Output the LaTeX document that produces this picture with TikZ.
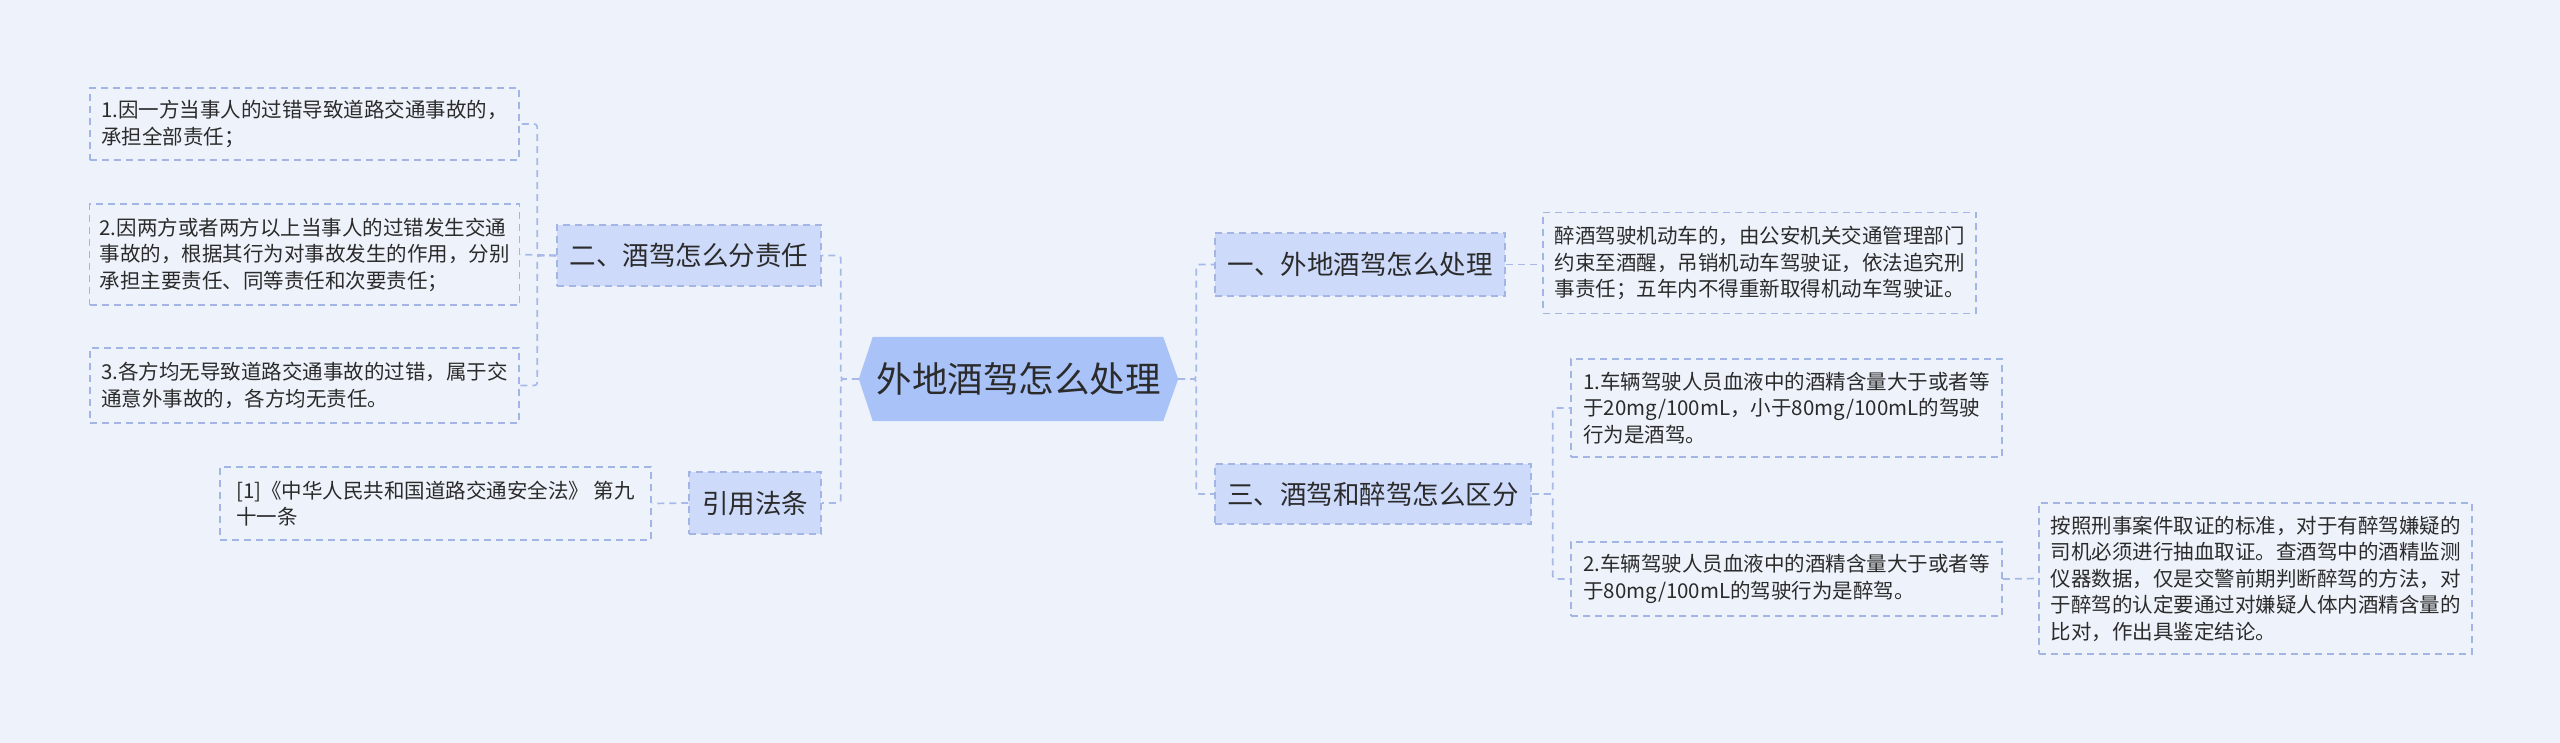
\documentclass[tikz,border=0pt]{standalone}
\usepackage{fontspec}
\setmainfont{Noto Sans CJK SC}
\usetikzlibrary{backgrounds}
\definecolor{bgc}{HTML}{EEF3FB}
\definecolor{rootc}{HTML}{A9C2F7}
\definecolor{branchc}{HTML}{CDDAFA}
\definecolor{bordc}{HTML}{A2B5E4}
\definecolor{connc}{HTML}{A6B9E8}
\definecolor{txtc}{HTML}{2B2B2B}
\tikzset{
  rootnode/.style={draw=none,fill=none,text=txtc,inner sep=0pt,font=\fontsize{35.5}{40}\selectfont},
  branchnode/.style={draw=bordc,fill=branchc,line width=1.5pt,dash pattern=on 7pt off 5pt,text=txtc,inner sep=0pt,font=\fontsize{26.5}{32}\selectfont},
  leafnode/.style={draw=bordc,fill=bgc,line width=1.5pt,dash pattern=on 7pt off 5pt,text=txtc,inner xsep=10pt,inner ysep=0pt,align=left,font=\fontsize{20.5}{26.5}\selectfont},
  conn/.style={draw=connc,line width=1.7pt,dash pattern=on 7pt off 5pt,rounded corners=3pt}
}
\begin{document}
\begin{tikzpicture}[x=1pt,y=-1pt]
\useasboundingbox (0,0) rectangle (2560,743);
\begin{scope}[on background layer]
\fill[bgc] (0,0) rectangle (2560,743);
\end{scope}

% root
\node[rootnode,minimum width=319pt,minimum height=84pt] (root) at (1018.5,379) {外地酒驾怎么处理};
\begin{scope}[on background layer]
\fill[rootc] (root.west) -- ([xshift=14pt]root.north west) -- ([xshift=-15pt]root.north east) -- (root.east) -- ([xshift=-15pt]root.south east) -- ([xshift=14pt]root.south west) -- cycle;
\end{scope}

% left branches
\node[branchnode,minimum width=264pt,minimum height=61pt] (b2) at (689,255.5) {二、酒驾怎么分责任};
\node[branchnode,minimum width=132pt,minimum height=62pt] (b4) at (755,503) {引用法条};

\node[leafnode,minimum width=429pt,minimum height=72pt] (L1) at (304.5,124) {1.因一方当事人的过错导致道路交通事故的，\\承担全部责任；};
\node[leafnode,minimum width=429pt,minimum height=101pt] (L2) at (304.5,254.5) {2.因两方或者两方以上当事人的过错发生交通\\事故的，根据其行为对事故发生的作用，分别\\承担主要责任、同等责任和次要责任；};
\node[leafnode,minimum width=429pt,minimum height=75pt] (L3) at (304.5,385.5) {3.各方均无导致道路交通事故的过错，属于交\\通意外事故的，各方均无责任。};
\node[leafnode,minimum width=431pt,minimum height=73pt] (law) at (435.5,503.5) {[1]《中华人民共和国道路交通安全法》 第九\\十一条};

% right branches
\node[branchnode,minimum width=290pt,minimum height=63pt] (b1) at (1360,264.5) {一、外地酒驾怎么处理};
\node[branchnode,minimum width=316pt,minimum height=60pt] (b3) at (1373,494) {三、酒驾和醉驾怎么区分};

\node[leafnode,minimum width=433pt,minimum height=101pt] (R1) at (1759.5,263) {醉酒驾驶机动车的，由公安机关交通管理部门\\约束至酒醒，吊销机动车驾驶证，依法追究刑\\事责任；五年内不得重新取得机动车驾驶证。};
\node[leafnode,minimum width=431pt,minimum height=98pt] (R31) at (1786.5,408) {1.车辆驾驶人员血液中的酒精含量大于或者等\\于20mg/100mL，小于80mg/100mL的驾驶\\行为是酒驾。};
\node[leafnode,minimum width=431pt,minimum height=74pt] (R32) at (1786.5,579) {2.车辆驾驶人员血液中的酒精含量大于或者等\\于80mg/100mL的驾驶行为是醉驾。};
\node[leafnode,minimum width=433pt,minimum height=151pt] (deep) at (2255.5,578.5) {按照刑事案件取证的标准，对于有醉驾嫌疑的\\司机必须进行抽血取证。查酒驾中的酒精监测\\仪器数据，仅是交警前期判断醉驾的方法，对\\于醉驾的认定要通过对嫌疑人体内酒精含量的\\比对，作出具鉴定结论。};

% connectors left
\draw[conn] (root.west) -- ([xshift=-18pt]root.west) |- (b2.east);
\draw[conn] (root.west) -- ([xshift=-18pt]root.west) |- (b4.east);
\draw[conn] (b2.west) -- ([xshift=-19pt]b2.west) |- (L1.east);
\draw[conn] (b2.west) -- (L2.east);
\draw[conn] (b2.west) -- ([xshift=-19pt]b2.west) |- (L3.east);
\draw[conn] (b4.west) -- (law.east);

% connectors right
\draw[conn] (root.east) -- ([xshift=18pt]root.east) |- (b1.west);
\draw[conn] (root.east) -- ([xshift=18pt]root.east) |- (b3.west);
\draw[conn] (b1.east) -- (R1.west |- b1.east);
\draw[conn] (b3.east) -- ([xshift=21pt]b3.east) |- (R31.west);
\draw[conn] (b3.east) -- ([xshift=21pt]b3.east) |- (R32.west);
\draw[conn] (R32.east) -- (deep.west);
\end{tikzpicture}
\end{document}
